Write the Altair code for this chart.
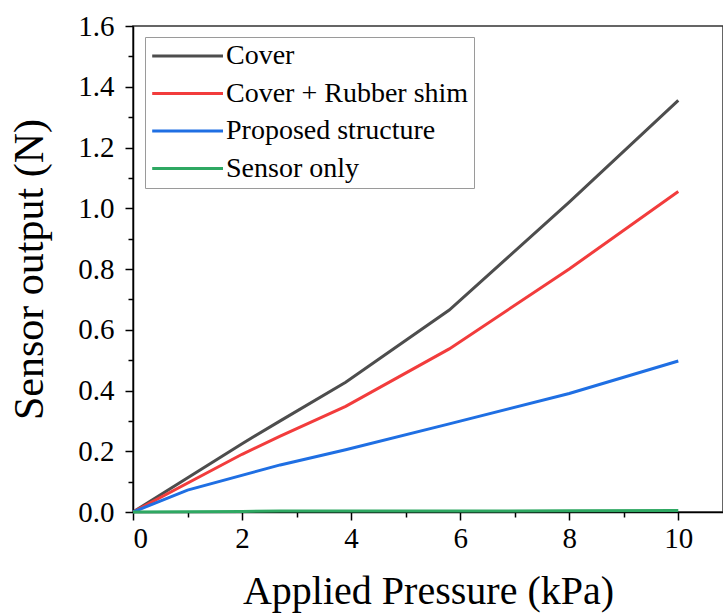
import altair as alt
import pandas as pd

pressure = [0, 2.0, 2.7, 3.9, 5.8, 8.0, 10.0]
blue_pressure = [0, 1.0, 2.7, 3.9, 5.8, 8.0, 10.0]
cover = [0, 0.225, 0.30, 0.427, 0.665, 1.02, 1.355]
cover_rubber = [0, 0.19, 0.25, 0.348, 0.537, 0.80, 1.055]
proposed = [0, 0.072, 0.155, 0.205, 0.29, 0.39, 0.497]
sensor_only = [0, 0.002, 0.003, 0.003, 0.003, 0.004, 0.005]

series_names = ["Cover", "Cover + Rubber shim", "Proposed structure", "Sensor only"]
series_colors = ["#4d4d4d", "#f23c3c", "#1f6fe3", "#2ea862"]

x_major = [0, 2, 4, 6, 8, 10]
x_minor = [1, 3, 5, 7, 9]
y_major = [0, 0.2, 0.4, 0.6, 0.8, 1.0, 1.2, 1.4, 1.6]
y_minor = [0.1, 0.3, 0.5, 0.7, 0.9, 1.1, 1.3, 1.5]

rows = []
for name, xs, ys in [
    ("Cover", pressure, cover),
    ("Cover + Rubber shim", pressure, cover_rubber),
    ("Proposed structure", blue_pressure, proposed),
    ("Sensor only", pressure, sensor_only),
]:
    for i, (xv, yv) in enumerate(zip(xs, ys)):
        rows.append({"series": name, "p": xv, "v": yv, "order": i})
df = pd.DataFrame(rows)

FONT = "Liberation Serif"
XDOM = [0, 10.82]
YDOM = [0, 1.6]

lines = alt.Chart(df).mark_line(strokeWidth=3).encode(
    x=alt.X("p:Q", scale=alt.Scale(domain=XDOM, nice=False, zero=False),
            axis=alt.Axis(values=x_major, format="d", title="Applied Pressure (kPa)",
                          orient="bottom", tickSize=8, labelPadding=4, titlePadding=18,
                          titleFontSize=40)),
    y=alt.Y("v:Q", scale=alt.Scale(domain=YDOM, nice=False),
            axis=alt.Axis(values=y_major, format=".1f", title="Sensor output (N)",
                          orient="left", tickSize=8, labelPadding=11, titlePadding=26,
                          titleFontSize=42)),
    color=alt.Color("series:N", scale=alt.Scale(domain=series_names, range=series_colors),
                    legend=alt.Legend(title=None, orient="none", legendX=12, legendY=11,
                                      symbolType="M-1,0H5", symbolSize=557,
                                      symbolStrokeWidth=3, labelFont=FONT,
                                      labelFontSize=28, labelColor="black",
                                      labelLimit=400,
                                      strokeColor="#9a9a9a", padding=5,
                                      fillColor="white", rowPadding=9.5,
                                      labelOffset=48)),
    order="order:Q",
)

minor = alt.Chart(df).mark_line(opacity=0).encode(
    x=alt.X("p:Q", scale=alt.Scale(domain=XDOM, nice=False, zero=False),
            axis=alt.Axis(values=x_minor, labels=False, title=None, domain=False,
                          grid=False, orient="bottom", tickSize=5)),
    y=alt.Y("v:Q", scale=alt.Scale(domain=YDOM, nice=False),
            axis=alt.Axis(values=y_minor, labels=False, title=None, domain=False,
                          grid=False, orient="left", tickSize=5)),
    detail="series:N",
)

chart = alt.layer(minor, lines).resolve_scale(x="independent", y="independent").properties(
    width=590, height=486,
    autosize=alt.AutoSizeParams(type="none"),
    padding={"left": 133, "top": 26, "right": 0, "bottom": 101},
    background="white",
).configure_view(
    stroke="#333333", strokeWidth=1.5
).configure_axis(
    grid=False, domainColor="black", domainWidth=1.5, tickColor="black", tickWidth=1.5,
    labelFont=FONT, labelFontSize=29, labelColor="black",
    titleFont=FONT, titleFontWeight="normal", titleColor="black",
)

chart.save("out.html", embed_options={"renderer": "svg", "actions": False})
